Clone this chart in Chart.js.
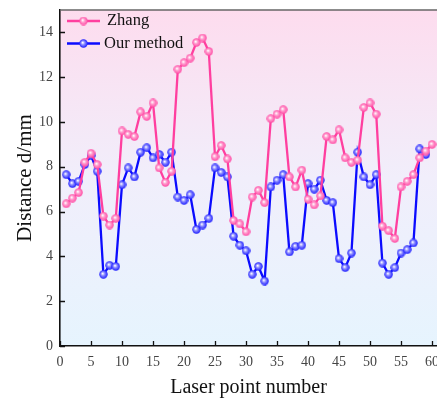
<!DOCTYPE html>
<html>
<head>
<meta charset="utf-8">
<script src="https://cdn.jsdelivr.net/npm/chart.js@4/dist/chart.umd.min.js"></script>
<style>
  html, body { margin: 0; padding: 0; background: #fff; }
  #wrap { width: 437px; height: 402px; }
</style>
</head>
<body>
<div id="wrap"><canvas id="chart" width="437" height="402"></canvas></div>
<script>
const pointNumbers = [1, 2, 3, 4, 5, 6, 7, 8, 9, 10, 11, 12, 13, 14, 15, 16, 17, 18, 19, 20,
  21, 22, 23, 24, 25, 26, 27, 28, 29, 30, 31, 32, 33, 34, 35, 36, 37, 38, 39, 40,
  41, 42, 43, 44, 45, 46, 47, 48, 49, 50, 51, 52, 53, 54, 55, 56, 57, 58, 59, 60];

const zhang = [6.35, 6.6, 6.85, 8.2, 8.6, 8.1, 5.8, 5.4, 5.7, 9.6,
  9.45, 9.35, 10.45, 10.25, 10.85, 7.95, 7.3, 7.8, 12.35, 12.65,
  12.85, 13.55, 13.75, 13.15, 8.45, 8.95, 8.35, 5.6, 5.45, 5.1,
  6.65, 6.95, 6.4, 10.15, 10.35, 10.55, 7.55, 7.1, 7.85, 6.55,
  6.3, 6.7, 9.35, 9.2, 9.65, 8.4, 8.2, 8.3, 10.65, 10.85,
  10.35, 5.35, 5.15, 4.8, 7.1, 7.35, 7.65, 8.4, 8.7, 9.0];

const ourMethod = [7.65, 7.25, 7.35, 8.1, 8.5, 7.8, 3.2, 3.6, 3.55, 7.2,
  7.95, 7.55, 8.65, 8.85, 8.4, 8.55, 8.2, 8.65, 6.65, 6.5,
  6.75, 5.2, 5.4, 5.7, 7.95, 7.75, 7.55, 4.9, 4.5, 4.25,
  3.2, 3.55, 2.9, 7.1, 7.4, 7.65, 4.2, 4.45, 4.5, 7.25,
  7.0, 7.4, 6.5, 6.4, 3.9, 3.5, 4.15, 8.65, 7.55, 7.2,
  7.65, 3.7, 3.2, 3.5, 4.15, 4.3, 4.6, 8.8, 8.55];

const xTicks = [0, 5, 10, 15, 20, 25, 30, 35, 40, 45, 50, 55, 60];
const yTicks = [0, 2, 4, 6, 8, 10, 12, 14];

const PINK = '#ff3f9f';
const BLUE = '#0b0bff';
const SERIF = "'Liberation Serif', 'DejaVu Serif', serif";

// little shaded ball used as marker
function ball(color, light) {
  const c = document.createElement('canvas');
  c.width = 9; c.height = 9;
  const g = c.getContext('2d');
  const grad = g.createRadialGradient(3.6, 3.6, 0.3, 4.5, 4.5, 4.6);
  grad.addColorStop(0, '#ffffff');
  grad.addColorStop(0.35, light);
  grad.addColorStop(1, color);
  g.fillStyle = grad;
  g.beginPath();
  g.arc(4.5, 4.5, 4.2, 0, Math.PI * 2);
  g.fill();
  return c;
}
const pinkBall = ball(PINK, '#ff9fcf');
const blueBall = ball(BLUE, '#8f8fff');

const toXY = (arr) => arr.map((v, i) => ({ x: pointNumbers[i], y: v }));

const backdrop = {
  id: 'backdrop',
  beforeDraw(chart) {
    const { ctx, chartArea: a } = chart;
    const grad = ctx.createLinearGradient(0, a.top, 0, a.bottom);
    grad.addColorStop(0, '#fddcee');
    grad.addColorStop(0.5, '#f1eefb');
    grad.addColorStop(1, '#e6f4fe');
    ctx.save();
    ctx.fillStyle = grad;
    ctx.fillRect(a.left, a.top, a.right - a.left, a.bottom - a.top);
    ctx.restore();
  },
  afterDraw(chart) {
    const { ctx, chartArea: a, scales } = chart;
    ctx.save();
    // top frame line
    ctx.strokeStyle = '#666';
    ctx.lineWidth = 1.6;
    ctx.beginPath();
    ctx.moveTo(a.left, a.top);
    ctx.lineTo(a.right, a.top);
    ctx.stroke();
    // inward ticks
    ctx.strokeStyle = '#111';
    ctx.lineWidth = 1.3;
    ctx.beginPath();
    xTicks.forEach(t => {
      const px = Math.round(scales.x.getPixelForValue(t)) + 0.5;
      ctx.moveTo(px, a.bottom);
      ctx.lineTo(px, a.bottom - 5);
    });
    yTicks.forEach(t => {
      const py = Math.round(scales.y.getPixelForValue(t)) + 0.5;
      ctx.moveTo(a.left, py);
      ctx.lineTo(a.left + 5, py);
    });
    ctx.stroke();
    // legend
    const rows = [[chart.data.datasets[0], 21, 107], [chart.data.datasets[1], 43.5, 104]];
    rows.forEach(([ds, y, tx]) => {
      ctx.strokeStyle = ds.borderColor;
      ctx.lineWidth = 2.5;
      ctx.beginPath();
      ctx.moveTo(67, y);
      ctx.lineTo(100, y);
      ctx.stroke();
      ctx.drawImage(ds.pointStyle, 83.5 - 4.5, y - 4.5);
      ctx.fillStyle = '#111';
      ctx.font = '16.5px ' + SERIF;
      ctx.textBaseline = 'middle';
      ctx.textAlign = 'left';
      ctx.fillText(ds.label, tx, y);
    });
    ctx.restore();
  }
};

new Chart(document.getElementById('chart'), {
  type: 'line',
  data: {
    datasets: [
      {
        label: 'Zhang',
        data: toXY(zhang),
        borderColor: PINK,
        backgroundColor: PINK,
        borderWidth: 2.3,
        pointStyle: pinkBall,
        pointRadius: 4.5,
        tension: 0
      },
      {
        label: 'Our method',
        data: toXY(ourMethod),
        borderColor: BLUE,
        backgroundColor: BLUE,
        borderWidth: 2.3,
        pointStyle: blueBall,
        pointRadius: 4.5,
        tension: 0
      }
    ]
  },
  options: {
    responsive: false,
    animation: false,
    layout: { autoPadding: false, padding: { top: 10, right: 0, left: 0, bottom: 0 } },
    plugins: {
      legend: { display: false },
      tooltip: { enabled: false }
    },
    scales: {
      x: {
        type: 'linear',
        min: 0,
        max: 60.8,
        afterBuildTicks: (s) => { s.ticks = xTicks.map(v => ({ value: v })); },
        afterFit: (s) => { s.height = 56; s.paddingLeft = 0; s.paddingRight = 0; },
        grid: { display: false, drawTicks: false },
        border: { display: true, color: '#111', width: 1.6 },
        ticks: {
          padding: 8,
          color: '#444',
          font: { family: SERIF, size: 14 },
          maxRotation: 0,
          autoSkip: false
        },
        title: {
          display: true,
          text: 'Laser point number',
          color: '#111',
          font: { family: SERIF, size: 20 },
          padding: { top: 0, bottom: 2 }
        }
      },
      y: {
        min: 0,
        max: 15,
        afterBuildTicks: (s) => { s.ticks = yTicks.map(v => ({ value: v })); },
        afterFit: (s) => { s.width = 60; s.paddingTop = 0; s.paddingBottom = 0; },
        grid: { display: false, drawTicks: false },
        border: { display: true, color: '#111', width: 1.6 },
        ticks: {
          padding: 7,
          color: '#444',
          font: { family: SERIF, size: 14 }
        },
        title: {
          display: true,
          text: 'Distance d/mm',
          color: '#111',
          font: { family: SERIF, size: 21 },
          padding: { top: 13, bottom: 0 }
        }
      }
    }
  },
  plugins: [backdrop]
});
</script>
</body>
</html>
